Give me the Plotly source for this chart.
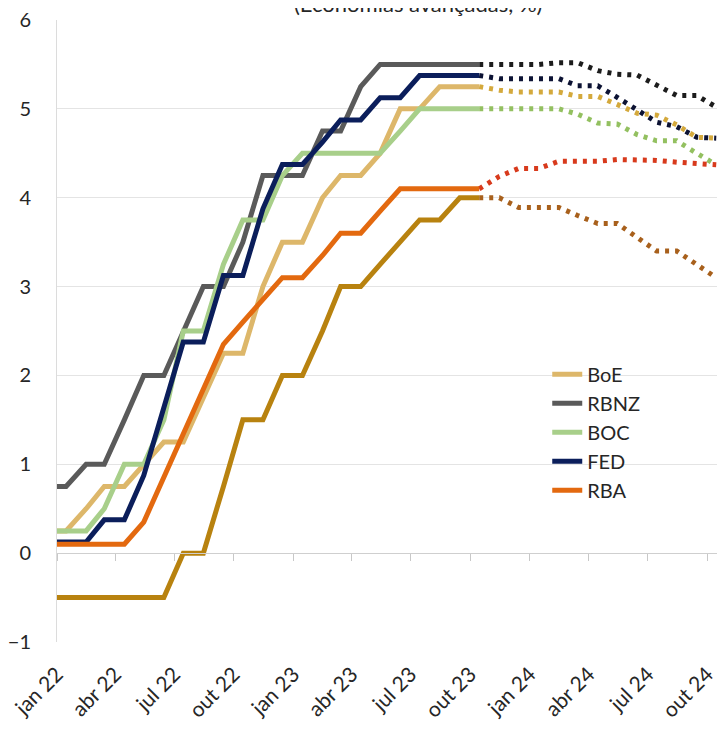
import plotly.graph_objects as go
import pandas as pd

# ---------------- data ----------------
# historical monthly values (Dec 2021 .. Oct 2023), plotted mid-month
hist_start = "2021-12-01"
boe_hist = [0.25, 0.25, 0.5, 0.75, 0.75, 1.0, 1.25, 1.25, 1.75, 2.25, 2.25, 3.0, 3.5, 3.5,
            4.0, 4.25, 4.25, 4.5, 5.0, 5.0, 5.25, 5.25, 5.25]
rbnz_hist = [0.75, 0.75, 1.0, 1.0, 1.5, 2.0, 2.0, 2.5, 3.0, 3.0, 3.5, 4.25, 4.25, 4.25,
             4.75, 4.75, 5.25, 5.5, 5.5, 5.5, 5.5, 5.5, 5.5]
boc_hist = [0.25, 0.25, 0.25, 0.5, 1.0, 1.0, 1.5, 2.5, 2.5, 3.25, 3.75, 3.75, 4.25, 4.5,
            4.5, 4.5, 4.5, 4.5, 4.75, 5.0, 5.0, 5.0, 5.0]
fed_hist = [0.125, 0.125, 0.125, 0.375, 0.375, 0.875, 1.625, 2.375, 2.375, 3.125, 3.125,
            3.875, 4.375, 4.375, 4.625, 4.875, 4.875, 5.125, 5.125, 5.375, 5.375, 5.375, 5.375]
rba_hist = [0.1, 0.1, 0.1, 0.1, 0.1, 0.35, 0.85, 1.35, 1.85, 2.35, 2.6, 2.85, 3.1, 3.1,
            3.35, 3.6, 3.6, 3.85, 4.1, 4.1, 4.1, 4.1, 4.1]
ecb_hist = [-0.5, -0.5, -0.5, -0.5, -0.5, -0.5, -0.5, 0.0, 0.0, 0.75, 1.5, 1.5, 2.0, 2.0,
            2.5, 3.0, 3.0, 3.25, 3.5, 3.75, 3.75, 4.0, 4.0]

# market-implied paths (Oct 2023 .. Oct 2024)
fc_start = "2023-10-01"
boe_fc = [5.25, 5.21, 5.19, 5.19, 5.19, 5.14, 5.14, 5.05, 4.95, 4.93, 4.82, 4.68, 4.67]
rbnz_fc = [5.5, 5.5, 5.5, 5.5, 5.52, 5.52, 5.43, 5.39, 5.38, 5.27, 5.15, 5.15, 5.02]
boc_fc = [5.0, 5.0, 5.0, 5.0, 5.0, 4.94, 4.84, 4.83, 4.71, 4.64, 4.64, 4.50, 4.37]
fed_fc = [5.375, 5.34, 5.34, 5.34, 5.34, 5.26, 5.26, 5.13, 4.98, 4.85, 4.80, 4.68, 4.67]
rba_fc = [4.1, 4.24, 4.33, 4.33, 4.41, 4.41, 4.41, 4.43, 4.43, 4.42, 4.40, 4.38, 4.37]
ecb_fc = [4.0, 4.0, 3.89, 3.89, 3.89, 3.80, 3.71, 3.71, 3.56, 3.40, 3.40, 3.25, 3.10]

tick_dates = ["2022-01-01", "2022-04-01", "2022-07-01", "2022-10-01", "2023-01-01", "2023-04-01",
              "2023-07-01", "2023-10-01", "2024-01-01", "2024-04-01", "2024-07-01", "2024-10-01"]
tick_labels = ["jan 22", "abr 22", "jul 22", "out 22", "jan 23", "abr 23",
               "jul 23", "out 23", "jan 24", "abr 24", "jul 24", "out 24"]

title_text = "(Economias avançadas, %)"

# ---------------- figure ----------------
hist_x = pd.date_range(hist_start, periods=len(boe_hist), freq="MS") + pd.Timedelta(days=14)
fc_x = pd.date_range(fc_start, periods=len(boe_fc), freq="MS") + pd.Timedelta(days=14)

series = [
    # name, hist, fc, solid colour, dotted colour, legend
    ("ECB", ecb_hist, ecb_fc, "#B8820F", "#A8601C", False),
    ("BoE", boe_hist, boe_fc, "#DDB76A", "#D4A93C", True),
    ("RBNZ", rbnz_hist, rbnz_fc, "#5A5A5A", "#1C1C1C", True),
    ("BOC", boc_hist, boc_fc, "#A8CF8A", "#93C060", True),
    ("FED", fed_hist, fed_fc, "#0B1E5B", "#0C1233", True),
    ("RBA", rba_hist, rba_fc, "#E3690F", "#D83A1C", True),
]

FONT = "Lato, 'Liberation Sans', sans-serif"
fig = go.Figure()

for name, h, f, c, cd, leg in series:
    fig.add_trace(go.Scatter(x=fc_x, y=f, mode="lines", name=name + " (mercado)",
                             line=dict(color=cd, width=5, dash="4px,6px"),
                             showlegend=False, hoverinfo="skip"))
for name, h, f, c, cd, leg in series:
    fig.add_trace(go.Scatter(x=hist_x, y=h, mode="lines", name=name,
                             line=dict(color=c, width=5), showlegend=leg))

# dummy trace for the axis drawn along y = 0
fig.add_trace(go.Scatter(x=[], y=[], xaxis="x2", showlegend=False, hoverinfo="skip"))

x_range = ["2022-01-01", "2024-10-27"]
ymin, ymax = -1, 6

fig.update_layout(
    width=725, height=732,
    margin=dict(l=49, r=9, t=12, b=98, autoexpand=False),
    paper_bgcolor="white", plot_bgcolor="white",
    font=dict(family=FONT, color="#262626"),
    showlegend=True,
    legend=dict(x=0.735, y=0.462, xanchor="left", yanchor="top",
                font=dict(size=20, color="#262626"), bgcolor="rgba(0,0,0,0)",
                traceorder="normal", itemwidth=30, tracegroupgap=0),
    xaxis=dict(type="date", range=x_range, tickmode="array", tickvals=tick_dates,
               ticktext=tick_labels, tickangle=-45, showgrid=False, showline=False,
               ticks="", zeroline=False, tickfont=dict(size=21, color="#262626"),
               ticklabelstandoff=15, automargin=False, ticklabeloverflow="allow"),
    xaxis2=dict(type="date", range=x_range, overlaying="x", anchor="free",
                position=(0 - ymin) / (ymax - ymin), tickmode="array", tickvals=tick_dates,
                showticklabels=False, ticks="outside", ticklen=7, tickwidth=1,
                tickcolor="#c8c8c8", showline=True, linecolor="#cfcfcf", linewidth=1,
                showgrid=False, zeroline=False, automargin=False),
    yaxis=dict(range=[ymin, ymax], dtick=1, tick0=0, showgrid=True, gridcolor="#e4e4e4",
               gridwidth=1, zeroline=False, showline=True, linecolor="#dcdcdc", linewidth=1,
               ticks="", tickfont=dict(size=20, color="#262626"), ticklabelstandoff=21,
               automargin=False, ticklabeloverflow="allow"),
    annotations=[dict(text=title_text, xref="paper", yref="paper", x=0.541, y=1.002,
                      xanchor="center", yanchor="bottom", showarrow=False,
                      font=dict(size=22, color="#262626", family=FONT))],
)

fig.write_html("out.html")
